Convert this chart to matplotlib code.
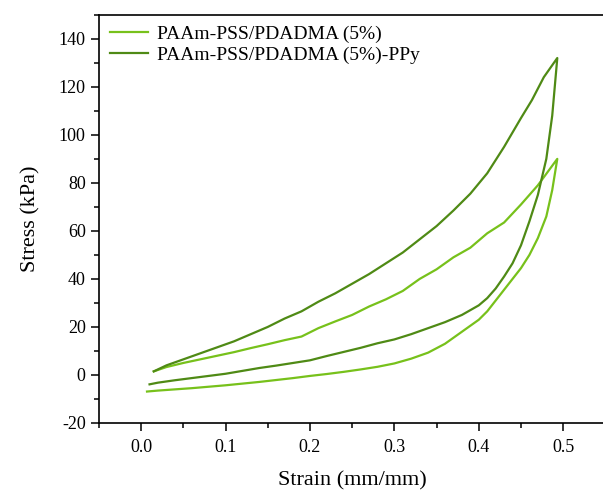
import matplotlib
matplotlib.use('Agg')
from matplotlib import pyplot as plt
from matplotlib.ticker import MultipleLocator

plt.rcParams['font.family'] = ['Liberation Serif', 'DejaVu Serif']
plt.rcParams['axes.unicode_minus'] = False

# PAAm-PSS/PDADMA (5%): loading then unloading
strain_a = [0.015, 0.03, 0.05, 0.07, 0.09, 0.11, 0.13, 0.15, 0.17, 0.19, 0.21, 0.23, 0.25,
            0.27, 0.29, 0.31, 0.33, 0.35, 0.37, 0.39, 0.41, 0.43, 0.45, 0.47, 0.493,
            0.487, 0.48, 0.47, 0.46, 0.45, 0.44, 0.43, 0.42, 0.41, 0.40, 0.38, 0.36, 0.34,
            0.32, 0.30, 0.28, 0.26, 0.24, 0.22, 0.20, 0.18, 0.16, 0.14, 0.12, 0.10, 0.08,
            0.06, 0.04, 0.02, 0.007]
stress_a = [1.5, 3.3, 5, 6.5, 8, 9.5, 11.2, 12.8, 14.5, 16, 19.5, 22.3, 25,
            28.5, 31.5, 35, 40, 44, 49, 53, 59, 63.5, 71, 79, 90,
            77, 66, 57, 50, 44.5, 40, 35.5, 31, 26.5, 23, 18, 13, 9.3,
            6.8, 4.8, 3.4, 2.3, 1.3, 0.4, -0.4, -1.3, -2.1, -2.9, -3.6, -4.3, -4.9,
            -5.5, -6.0, -6.5, -6.9]

# PAAm-PSS/PDADMA (5%)-PPy: loading then unloading
strain_b = [0.015, 0.03, 0.05, 0.07, 0.09, 0.11, 0.13, 0.15, 0.17, 0.19, 0.21, 0.23, 0.25,
            0.27, 0.29, 0.31, 0.33, 0.35, 0.37, 0.39, 0.41, 0.43, 0.45, 0.463, 0.477, 0.493,
            0.487, 0.48, 0.47, 0.46, 0.45, 0.44, 0.43, 0.42, 0.41, 0.40, 0.38, 0.36, 0.34,
            0.32, 0.30, 0.28, 0.26, 0.24, 0.22, 0.20, 0.18, 0.16, 0.14, 0.12, 0.10, 0.08,
            0.06, 0.04, 0.02, 0.01]
stress_b = [1.5, 4, 6.5, 9, 11.5, 14, 17, 20, 23.5, 26.5, 30.5, 34, 38,
            42, 46.5, 51, 56.5, 62, 68.5, 75.5, 84, 95, 107, 114.5, 124, 132,
            108, 90, 75, 64, 54, 46.5, 41, 36, 32, 29, 25, 22, 19.5,
            17, 14.8, 13.2, 11.3, 9.6, 7.9, 6.1, 5.0, 3.9, 2.9, 1.7, 0.5, -0.4,
            -1.3, -2.2, -3.2, -3.9]

labels = ['PAAm-PSS/PDADMA (5%)', 'PAAm-PSS/PDADMA (5%)-PPy']
colors = ['#77c11b', '#4f8a15']

fig = plt.figure(figsize=(6.03, 4.93), dpi=100)
ax = fig.add_axes([0.164, 0.142, 0.840, 0.828])

ax.plot(strain_a, stress_a, color=colors[0], lw=1.6, label=labels[0])
ax.plot(strain_b, stress_b, color=colors[1], lw=1.6, label=labels[1])

ax.set_xlim(-0.05, 0.55)
ax.set_ylim(-20, 150)
ax.xaxis.set_major_locator(MultipleLocator(0.1))
ax.xaxis.set_minor_locator(MultipleLocator(0.05))
ax.yaxis.set_major_locator(MultipleLocator(20))
ax.yaxis.set_minor_locator(MultipleLocator(10))
ax.tick_params(which='major', direction='out', length=5.5, width=1.1, labelsize=13, pad=4)
ax.tick_params(axis='x', which='major', pad=6)
ax.tick_params(which='minor', direction='out', length=3.3, width=1.1)
for s in ax.spines.values():
    s.set_linewidth(1.2)
ax.spines['right'].set_visible(False)

ax.set_xlabel('Strain (mm/mm)', fontsize=16, labelpad=11)
ax.set_ylabel('Stress (kPa)', fontsize=16, labelpad=13)

ax.legend(loc='upper left', frameon=False, fontsize=14, handlelength=2.0,
          handletextpad=0.45, labelspacing=0.15, borderaxespad=0.2,
          borderpad=0.35)

plt.savefig('out.png', dpi=100)
